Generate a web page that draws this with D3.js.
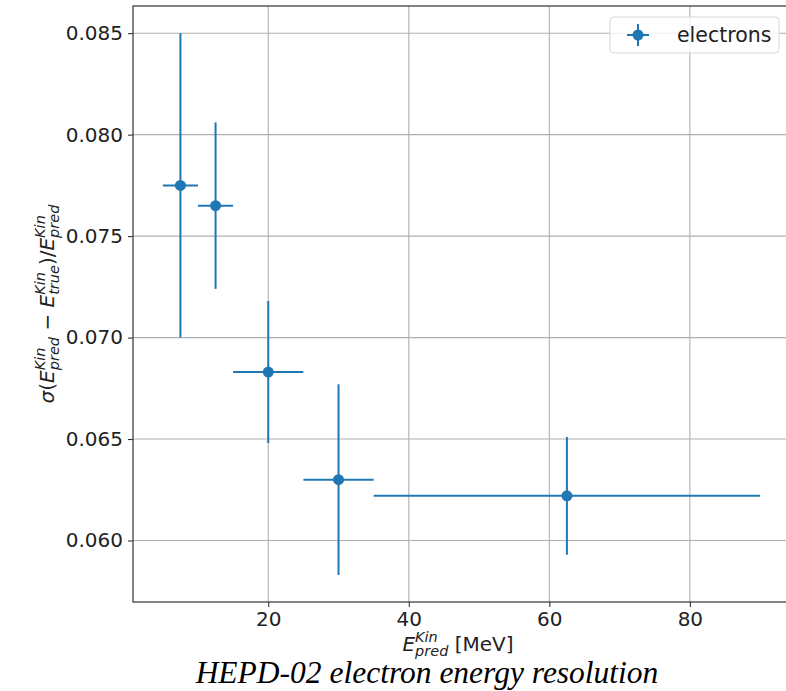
<!DOCTYPE html>
<html>
<head>
<meta charset="utf-8">
<script src="https://cdn.jsdelivr.net/npm/d3@7"></script>
<style>
  body { margin: 0; background: #fff; overflow: hidden; }
  svg { display: block; }
</style>
</head>
<body>
<svg id="chart" width="786" height="691"></svg>
<script>
// ---- data ----
const energies = [7.5, 12.5, 20, 30, 62.5];
const energyErr = [2.5, 2.5, 5, 5, 27.5];
const resolution = [0.0775, 0.0765, 0.0683, 0.0630, 0.0622];
const resolutionErr = [0.0075, 0.0041, 0.0035, 0.0047, 0.0029];
const xTicks = [20, 40, 60, 80];
const yTicks = [0.060, 0.065, 0.070, 0.075, 0.080, 0.085];
const seriesName = "electrons";
const titleText = "HEPD-02 electron energy resolution";

const color = "#1f77b4";
const svg = d3.select("#chart");
const L = 133, R = 790, T = 6, B = 602;

const x = d3.scaleLinear().domain([0.75, 94.25]).range([L, R]);
const y = d3.scaleLinear().domain([0.05697, 0.08634]).range([B, T]);

// grid
const grid = svg.append("g");
grid.selectAll(".gx").data(xTicks).enter().append("line")
  .attr("x1", d => x(d)).attr("x2", d => x(d)).attr("y1", T).attr("y2", B)
  .attr("stroke", "#b0b0b0").attr("stroke-width", 1.1);
grid.selectAll(".gy").data(yTicks).enter().append("line")
  .attr("y1", d => y(d)).attr("y2", d => y(d)).attr("x1", L).attr("x2", R)
  .attr("stroke", "#b0b0b0").attr("stroke-width", 1.1);

// axes
const xAxis = d3.axisBottom(x).tickValues(xTicks).tickSize(5).tickPadding(5).tickFormat(d3.format("d"));
const yAxis = d3.axisLeft(y).tickValues(yTicks).tickSize(5).tickPadding(5).tickFormat(d3.format(".3f"));
const gx = svg.append("g").attr("transform", `translate(0,${B})`).call(xAxis);
const gy = svg.append("g").attr("transform", `translate(${L},0)`).call(yAxis);
[gx, gy].forEach(g => {
  g.select(".domain").remove();
  g.selectAll("line").attr("stroke", "#222").attr("stroke-width", 1);
  g.selectAll("text").attr("font-family", "DejaVu Sans").attr("font-size", 20).attr("fill", "#222");
});

// spines
svg.append("rect").attr("x", L).attr("y", T).attr("width", R - L).attr("height", B - T)
  .attr("fill", "none").attr("stroke", "#333").attr("stroke-width", 1.2);

// error bars
const pts = energies.map((e, i) => ({x: e, xe: energyErr[i], y: resolution[i], ye: resolutionErr[i]}));
const eb = svg.append("g");
eb.selectAll(".h").data(pts).enter().append("line")
  .attr("x1", d => x(d.x - d.xe)).attr("x2", d => x(d.x + d.xe))
  .attr("y1", d => y(d.y)).attr("y2", d => y(d.y))
  .attr("stroke", color).attr("stroke-width", 2);
eb.selectAll(".v").data(pts).enter().append("line")
  .attr("x1", d => x(d.x)).attr("x2", d => x(d.x))
  .attr("y1", d => y(d.y - d.ye)).attr("y2", d => y(d.y + d.ye))
  .attr("stroke", color).attr("stroke-width", 2);
eb.selectAll("circle").data(pts).enter().append("circle")
  .attr("cx", d => x(d.x)).attr("cy", d => y(d.y)).attr("r", 5.5).attr("fill", color);

// legend
const lg = svg.append("g");
lg.append("rect").attr("x", 610).attr("y", 17).attr("width", 169).attr("height", 36).attr("rx", 4)
  .attr("fill", "white").attr("fill-opacity", 0.8).attr("stroke", "#d6d6d6").attr("stroke-width", 1);
lg.append("line").attr("x1", 627).attr("x2", 649).attr("y1", 35).attr("y2", 35).attr("stroke", color).attr("stroke-width", 2);
lg.append("line").attr("x1", 638).attr("x2", 638).attr("y1", 24).attr("y2", 46).attr("stroke", color).attr("stroke-width", 2);
lg.append("circle").attr("cx", 638).attr("cy", 35).attr("r", 5.5).attr("fill", color);
lg.append("text").attr("x", 677).attr("y", 42).attr("font-family", "DejaVu Sans").attr("font-size", 20.5)
  .attr("fill", "#222").text(seriesName);

// math-like label helper: E with superscript and subscript stacked
function addE(t, sup, sub, fs) {
  t.append("tspan").attr("font-style", "italic").text("E");
  const s = t.append("tspan").attr("font-style", "italic").attr("font-size", fs).attr("dy", -9).text(sup);
  const slen = s.node().getComputedTextLength();
  const b = t.append("tspan").attr("font-style", "italic").attr("font-size", fs).attr("dx", -slen).attr("dy", 14).text(sub);
  const blen = b.node().getComputedTextLength();
  return Math.max(0, slen - blen);
}

// x label
const xl = svg.append("text").attr("x", 458).attr("y", 651).attr("text-anchor", "middle")
  .attr("font-family", "DejaVu Sans").attr("font-size", 20).attr("fill", "#222");
{
  const ex = addE(xl, "Kin", "pred", 14.5);
  xl.append("tspan").attr("dy", -5).attr("dx", ex).text(" [MeV]");
}

// y label
const yl = svg.append("text").attr("transform", `translate(54,304) rotate(-90)`).attr("text-anchor", "middle")
  .attr("font-family", "DejaVu Sans").attr("font-size", 20).attr("fill", "#222");
{
  yl.append("tspan").attr("font-style", "italic").text("σ");
  yl.append("tspan").text("(");
  let ex = addE(yl, "Kin", "pred", 14.5);
  yl.append("tspan").attr("dy", -5).attr("dx", ex).text(" − ");
  ex = addE(yl, "Kin", "true", 14.5);
  yl.append("tspan").attr("dy", -5).attr("dx", ex).text(")/");
  ex = addE(yl, "Kin", "pred", 14.5);
}

// title
svg.append("text").attr("x", 427).attr("y", 683).attr("text-anchor", "middle")
  .attr("font-family", "Liberation Serif").attr("font-style", "italic").attr("font-size", 31.5)
  .attr("fill", "#000").text(titleText);
</script>
</body>
</html>
